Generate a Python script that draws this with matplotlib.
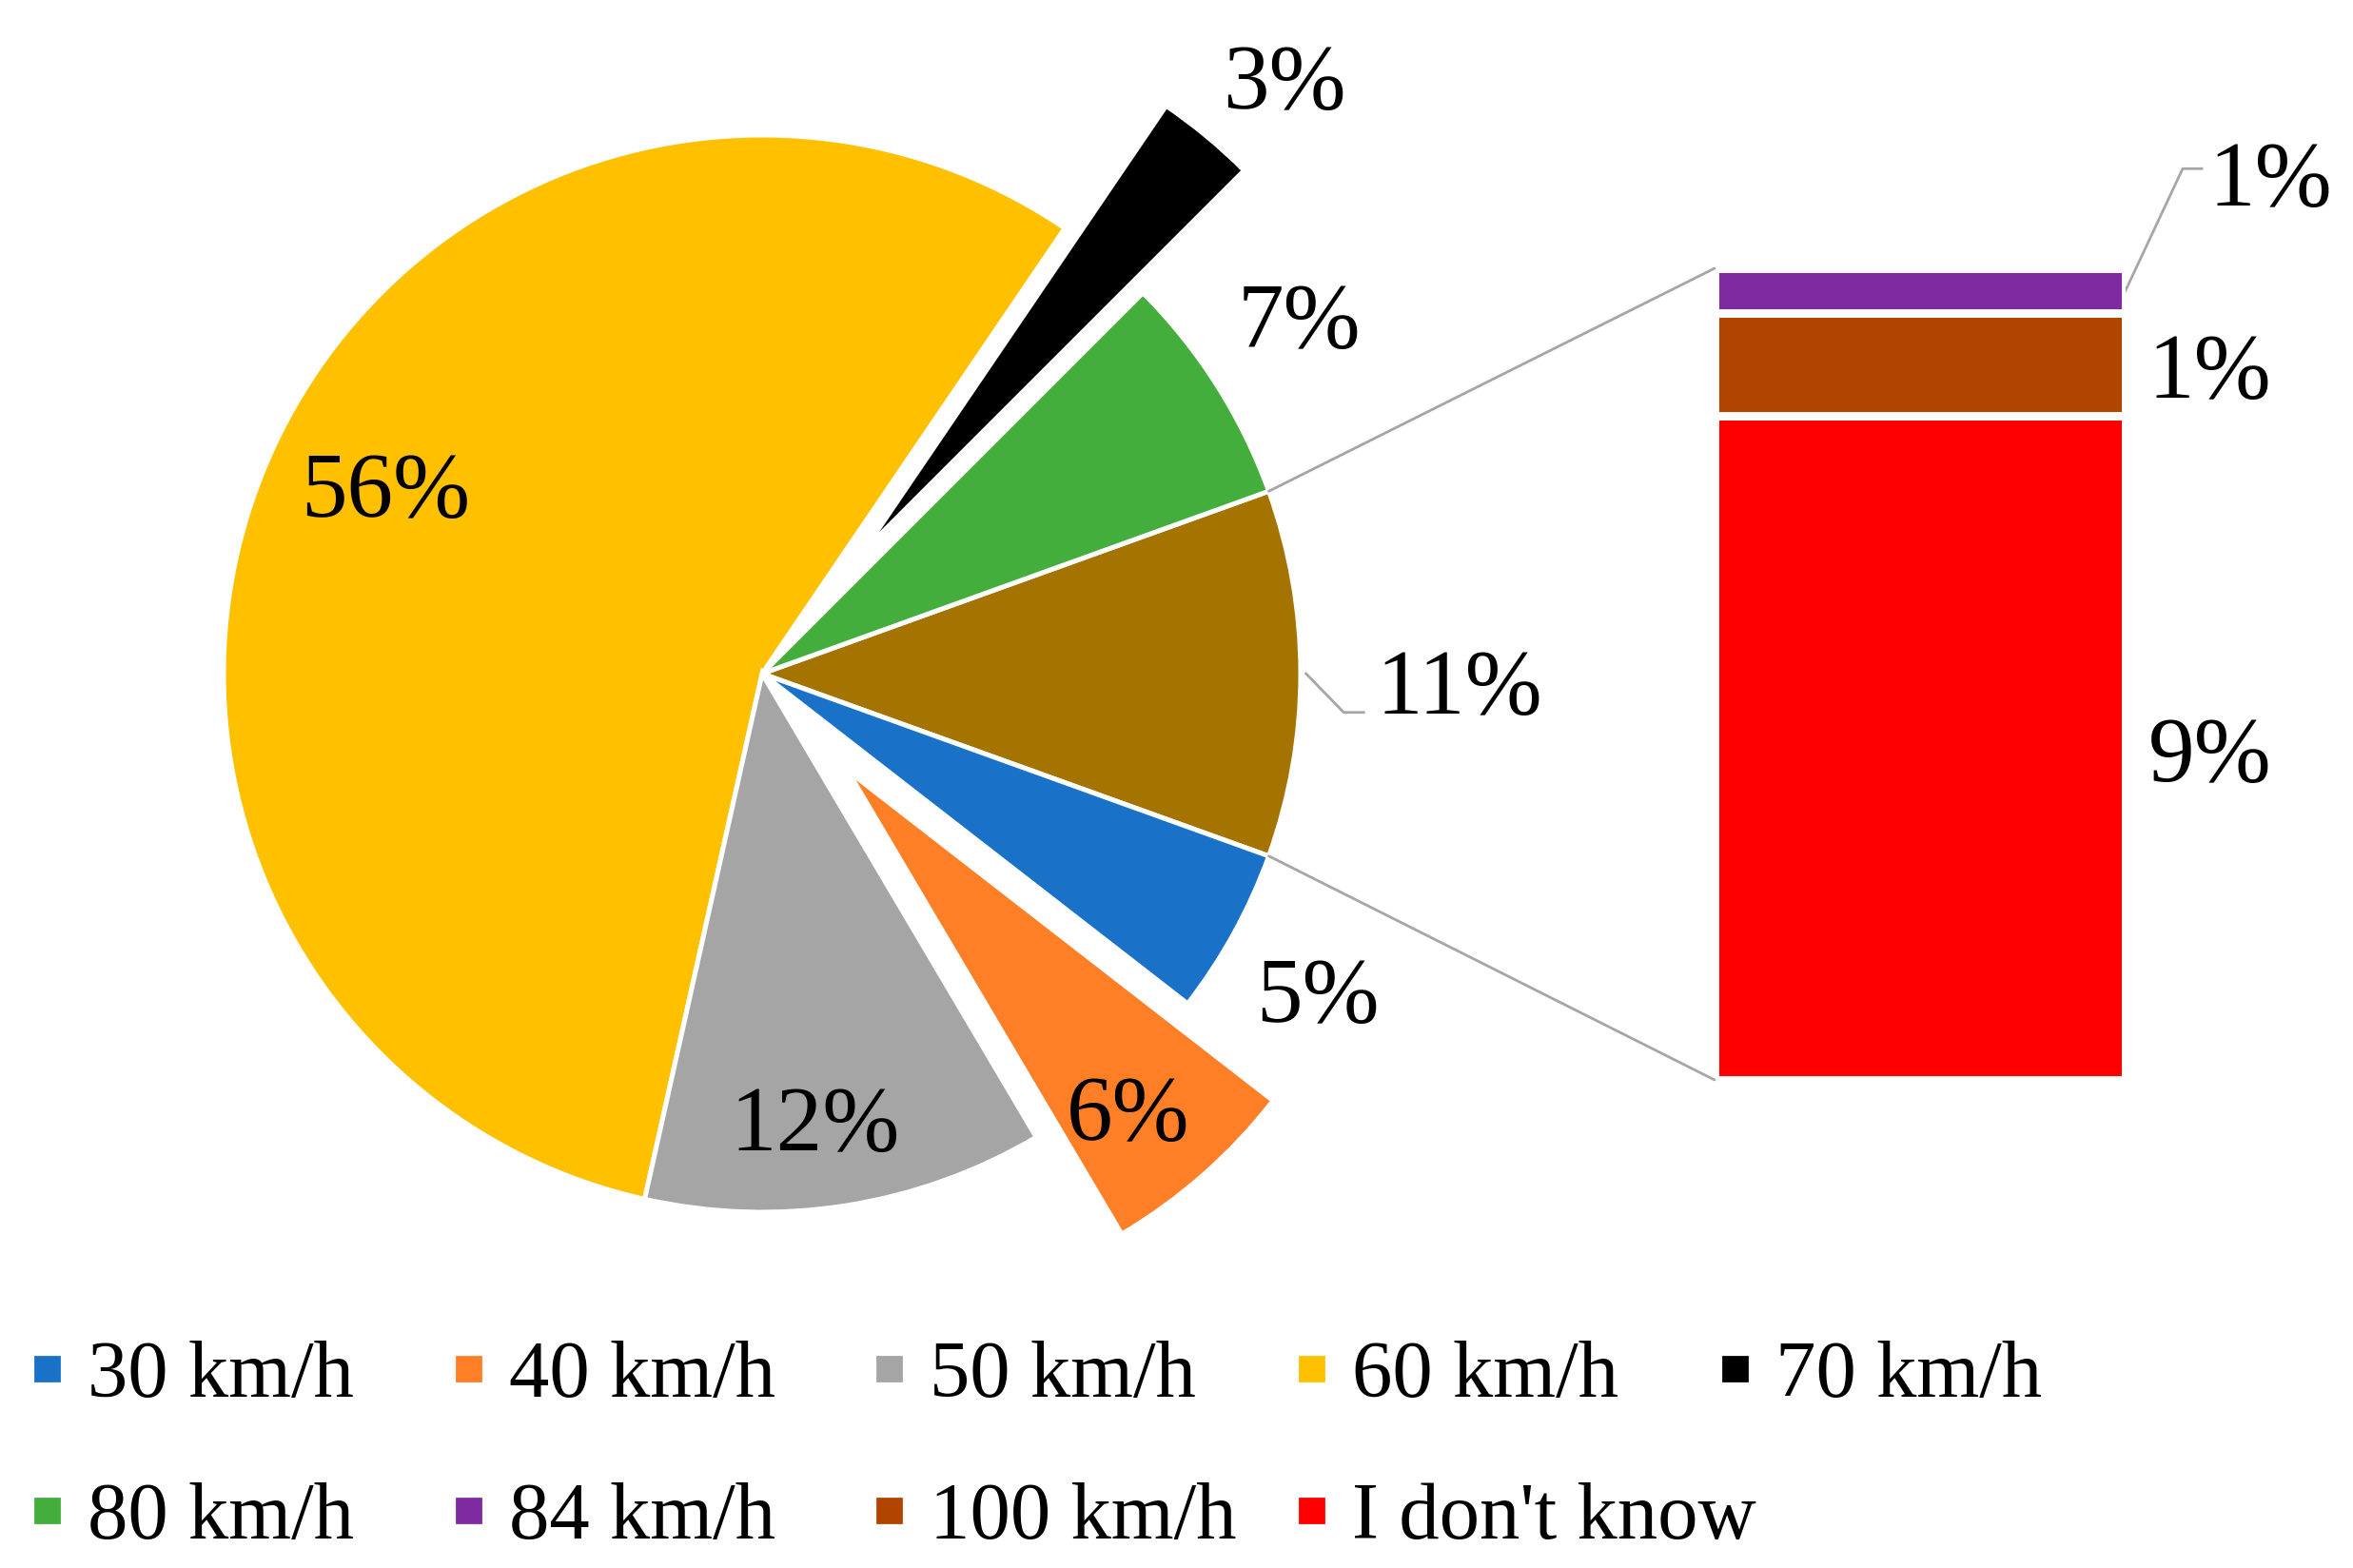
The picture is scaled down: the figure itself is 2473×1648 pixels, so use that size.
"""
Pie-of-bar chart: stated speed limit answers (matplotlib, headless).
"""

import matplotlib

matplotlib.use("Agg")
import matplotlib.pyplot as plt
from matplotlib.lines import Line2D
from matplotlib.patches import ConnectionPatch
import numpy as np

# ---- data -----------------------------------------------------------------
labels = ["30 km/h", "40 km/h", "50 km/h", "60 km/h", "70 km/h",
          "80 km/h", "84 km/h", "100 km/h", "I don't know"]
pie_values = [5, 6, 12, 56, 3, 7]        # 30 ... 80 km/h (share, %)
bar_values = [0.6, 1.4, 9.0]             # 84 km/h, 100 km/h, I don't know
colors = ["#1A72C8", "#FF7F27", "#A5A5A5", "#FFC000", "#000000",
          "#44AE3C", "#7F2AA0", "#B14500", "#FF0000"]
other_color = "#A57400"
explode_frac = {"70 km/h": 0.295, "40 km/h": 0.24}
# label placement: (distance in radii, angle shift in degrees)
label_pos = {"30 km/h": (1.186, -0.8), "40 km/h": (0.813, -1.5),
             "50 km/h": (0.83, -2.2), "60 km/h": (0.784, -3.4),
             "70 km/h": (1.18, -1.9), "80 km/h": (1.20, 1.4)}

plt.rcParams["font.family"] = ["Liberation Serif", "DejaVu Serif"]

W, H, DPI = 2473, 1649, 200
fig = plt.figure(figsize=(W / DPI, H / DPI), dpi=DPI)
ax = fig.add_axes([0, 0, 1, 1])   # pixel coordinates

cx, cy, R = 801, 940, 566
other = sum(bar_values)
total = sum(pie_values) + other

# counter-clockwise, starting with the "other" slice centred on 0 deg
pie_names = ["other"] + labels[:6][::-1]
pie_vals = [other] + pie_values[::-1]
pie_cols = [other_color] + colors[:6][::-1]
explode = [explode_frac.get(n, 0) * R for n in pie_names]

wedges, _ = ax.pie(pie_vals, colors=pie_cols, explode=explode,
                   startangle=-other / total * 180, counterclock=True,
                   center=(cx, cy), radius=R,
                   wedgeprops=dict(edgecolor="white", linewidth=1.8))
ax.set_xlim(0, W)
ax.set_ylim(0, H)
ax.axis("off")

PCT = 35
for w, v, name in zip(wedges, pie_vals, pie_names):
    txt = f"{v / total * 100:.0f}%"
    if name == "other":
        y_lead = cy - 0.072 * R
        ax.plot([cx + 1.01 * R, cx + 1.08 * R, cx + 1.117 * R],
                [cy, y_lead, y_lead], color="#A6A6A6", lw=1)
        ax.text(cx + 1.14 * R, y_lead, txt, ha="left", va="baseline",
                fontsize=PCT)
        continue
    f, shift = label_pos[name]
    th = np.deg2rad((w.theta1 + w.theta2) / 2 + shift)
    x0, y0 = w.center
    ax.text(x0 + f * R * np.cos(th), y0 + f * R * np.sin(th), txt,
            ha="center", va="center_baseline", fontsize=PCT)

# ---- bar for the "other" slice --------------------------------------------
bx0, bx1, by0, by1 = 1802, 2234, 513, 1366
bax = fig.add_axes([bx0 / W, by0 / H, (bx1 - bx0) / W, (by1 - by0) / H])
bottom = 0
mids = []
for val, col in zip(bar_values[::-1], colors[6:][::-1]):
    bax.bar(0, val, bottom=bottom, width=1, color=col,
            edgecolor="white", linewidth=3.2)
    mids.append(bottom + val / 2)
    bottom += val
bax.set_xlim(-0.5, 0.5)
bax.set_ylim(0, other)
bax.axis("off")

# lines from the pie slice edges to the bar corners
for ang, corner in [(wedges[0].theta2, (-0.5, other)), (wedges[0].theta1, (-0.5, 0))]:
    a = np.deg2rad(ang)
    con = ConnectionPatch(xyA=(cx + R * np.cos(a), cy + R * np.sin(a)),
                          coordsA=ax.transData, xyB=corner, coordsB=bax.transData,
                          color="#A6A6A6", lw=1)
    fig.add_artist(con)


def to_px(x, y):
    return ax.transData.inverted().transform(bax.transData.transform((x, y)))


mids = mids[::-1]          # 84, 100, idk
for i, (val, m) in enumerate(zip(bar_values, mids)):
    px, py = to_px(0.5, m)
    txt = f"{val / total * 100:.0f}%"
    if i == 0:
        ax.plot([px, px + 60, px + 80], [py, py + 128, py + 128],
                color="#A6A6A6", lw=1)
        ax.text(px + 88, py + 124, txt, ha="left", va="center_baseline",
                fontsize=PCT)
    else:
        ax.text(px + 24, py, txt, ha="left", va="center_baseline",
                fontsize=PCT)

# ---- legend: five equally spaced columns ----------------------------------
handles = [Line2D([], [], marker="s", linestyle="none", markersize=9, color=c)
           for c in colors]
col_x = [49, 492, 934, 1378, 1823]
for j, x in enumerate(col_x):
    idx = [j, j + 5] if j + 5 < len(labels) else [j]
    fig.legend([handles[i] for i in idx], [labels[i] for i in idx],
               loc="upper left", bbox_to_anchor=((x - 21) / W, 240 / H),
               frameon=False, fontsize=30.5, handlelength=0.5,
               handletextpad=0.25, labelspacing=0.845, borderpad=0,
               borderaxespad=0)

fig.savefig("out.png", dpi=DPI)
